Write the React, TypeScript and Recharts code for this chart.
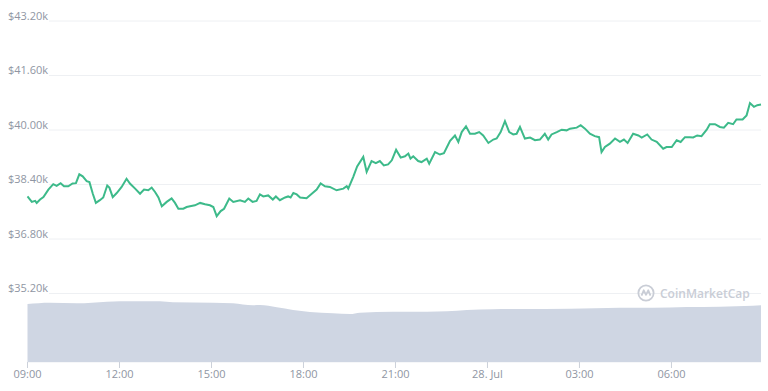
import { Area, CartesianGrid, ComposedChart, Line, XAxis, YAxis } from "recharts";

// hours since midnight of 27 Jul (24+ = 28 Jul)
const priceHours = [
  9.0, 9.14, 9.25, 9.3, 9.41, 9.52, 9.68, 9.84, 9.95, 10.08,
  10.19, 10.33, 10.47, 10.58, 10.69, 10.8, 10.93, 11.02, 11.13, 11.23,
  11.36, 11.47, 11.6, 11.67, 11.78, 11.91, 12.07, 12.23, 12.34, 12.51,
  12.67, 12.8, 12.94, 13.05, 13.16, 13.27, 13.38, 13.54, 13.7, 13.81,
  13.92, 14.08, 14.19, 14.3, 14.46, 14.63, 14.79, 14.95, 15.06, 15.17,
  15.3, 15.41, 15.58, 15.71, 15.93, 16.09, 16.2, 16.34, 16.47, 16.58,
  16.69, 16.85, 17.0, 17.1, 17.23, 17.4, 17.5, 17.58, 17.67, 17.78,
  17.89, 18.1, 18.27, 18.43, 18.56, 18.7, 18.86, 19.08, 19.3, 19.41,
  19.46, 19.62, 19.75, 19.95, 20.06, 20.22, 20.36, 20.49, 20.62, 20.76,
  20.88, 21.02, 21.17, 21.31, 21.42, 21.49, 21.58, 21.74, 21.85, 22.02,
  22.1, 22.29, 22.45, 22.58, 22.78, 22.94, 23.05, 23.16, 23.3, 23.43,
  23.59, 23.73, 23.86, 24.03, 24.19, 24.3, 24.43, 24.57, 24.71, 24.84,
  24.95, 25.06, 25.22, 25.39, 25.55, 25.71, 25.87, 25.98, 26.09, 26.26,
  26.42, 26.58, 26.69, 26.91, 27.04, 27.18, 27.34, 27.5, 27.64, 27.72,
  27.83, 27.99, 28.16, 28.32, 28.45, 28.57, 28.75, 28.92, 29.03, 29.21,
  29.35, 29.52, 29.73, 29.84, 30.01, 30.17, 30.3, 30.44, 30.6, 30.71,
  30.84, 30.98, 31.15, 31.25, 31.42, 31.58, 31.71, 31.85, 32.01, 32.12,
  32.32, 32.45, 32.56, 32.69, 32.8, 32.92,
];

const priceValues = [
  38050, 37890, 37920, 37860, 37960, 38030, 38250, 38410, 38360, 38440,
  38350, 38350, 38430, 38440, 38700, 38640, 38500, 38470, 38130, 37860,
  37940, 38020, 38370, 38310, 38030, 38150, 38330, 38570, 38430, 38280,
  38130, 38250, 38230, 38310, 38180, 38020, 37760, 37890, 37990, 37860,
  37690, 37690, 37740, 37760, 37790, 37860, 37820, 37790, 37740, 37470,
  37620, 37690, 37990, 37890, 37940, 37890, 37990, 37890, 37920, 38110,
  38050, 38080, 37960, 38050, 37940, 38020, 38050, 38020, 38150, 38110,
  38020, 38000, 38130, 38250, 38430, 38350, 38330, 38230, 38280, 38350,
  38280, 38620, 38930, 39210, 38770, 39090, 39030, 39090, 38960, 38990,
  39110, 39420, 39190, 39230, 39310, 39160, 39230, 39090, 39060, 39160,
  39010, 39350, 39280, 39320, 39680, 39840, 39650, 39940, 40110, 39890,
  39890, 39940, 39840, 39620, 39720, 39750, 39940, 40260, 39940, 39870,
  39890, 40090, 39750, 39780, 39700, 39720, 39890, 39720, 39870, 39940,
  40010, 39990, 40040, 40070, 40140, 40040, 39890, 39820, 39790, 39350,
  39500, 39600, 39750, 39650, 39720, 39620, 39890, 39840, 39780, 39870,
  39720, 39650, 39450, 39500, 39500, 39700, 39650, 39790, 39790, 39780,
  39840, 39820, 40010, 40170, 40170, 40090, 40070, 40210, 40170, 40310,
  40310, 40430, 40790, 40680, 40730, 40750,
];

const volumeHours = [
  9.0, 9.73, 10.61, 11.59, 12.02, 13.32, 13.74, 15.05, 15.7, 16.35,
  16.58, 17.13, 17.66, 18.21, 18.96, 19.52, 19.84, 20.92, 22.03, 22.68,
  23.33, 24.18, 25.06, 26.69, 28.32, 29.39, 30.5, 31.58, 32.65, 32.92,
];

// 24h volume, $B
const volumeValues = [
  29.0, 29.65, 29.35, 30.15, 30.35, 30.35, 29.85, 29.65, 29.35, 28.35,
  28.5, 27.35, 26.0, 25.0, 24.35, 24.0, 24.65, 25.15, 25.15, 25.35,
  26.0, 26.35, 26.5, 26.65, 27.15, 27.15, 27.5, 27.65, 28.15, 28.35,
];

const xTicks = [9, 12, 15, 18, 21, 24, 27, 30];
const xTickLabels = ["09:00", "12:00", "15:00", "18:00", "21:00", "28. Jul", "03:00", "06:00"];
const yTicks = [35200, 36800, 38400, 40000, 41600, 43200];

const priceData = priceHours.map((h, i) => ({ h, price: priceValues[i] }));
const volumeData = volumeHours.map((h, i) => ({ h, volume: volumeValues[i] }));

const FONT = "'Open Sans', sans-serif";
const LABEL = "#8f96a3";

function PriceTick({ y, payload }: any) {
  return (
    <g>
      <rect x={0} y={y - 13} width={49} height={15} fill="#fff" />
      <text x={8} y={y - 1.5} fontSize={11} fontFamily={FONT} fill={LABEL} textAnchor="start">
        {`$${(payload.value / 1000).toFixed(2)}k`}
      </text>
    </g>
  );
}

function Watermark() {
  return (
    <div style={{ position: "absolute", left: 637, top: 284, display: "flex", alignItems: "center", gap: 5 }}>
      <svg width={18} height={18} viewBox="0 0 20 20">
        <circle cx={10} cy={10} r={8.5} fill="none" stroke="#c9cdd6" strokeWidth={2} />
        <path d="M5 13 L7.5 7 L10 12 L12.5 7 L15 13" fill="none" stroke="#c9cdd6" strokeWidth={2} strokeLinejoin="round" />
      </svg>
      <span style={{ fontFamily: FONT, fontSize: 12, fontWeight: 600, color: "#c9cdd6" }}>CoinMarketCap</span>
    </div>
  );
}

export default function App() {
  return (
    <div style={{ position: "absolute", left: 0, top: 0, width: 768, height: 391, background: "#fff" }}>
      <ComposedChart width={768} height={391} margin={{ top: 21, right: 7, left: 0, bottom: 0 }}>
        <CartesianGrid horizontal vertical={false} stroke="#eef0f3" yAxisId="price" />
        <XAxis
          dataKey="h"
          type="number"
          domain={[9, 32.92]}
          ticks={xTicks}
          tickFormatter={(v: number) => xTickLabels[xTicks.indexOf(v)]}
          axisLine={false}
          tickSize={6}
          tickLine={{ stroke: "#ccd1da" }}
          height={29}
          tick={{ fontSize: 11, fontFamily: FONT, fill: LABEL }}
          allowDuplicatedCategory={false}
        />
        <YAxis
          yAxisId="price"
          type="number"
          domain={[33190, 43200]}
          ticks={yTicks}
          width={27.5}
          axisLine={false}
          tickLine={false}
          tick={<PriceTick />}
        />
        <YAxis yAxisId="vol" type="number" domain={[0, 170.5]} hide />
        <Area
          yAxisId="vol"
          data={volumeData}
          dataKey="volume"
          type="monotone"
          stroke="none"
          fill="#cfd6e3"
          fillOpacity={1}
          isAnimationActive={false}
          dot={false}
          activeDot={false}
        />
        <Line
          yAxisId="price"
          data={priceData}
          dataKey="price"
          type="linear"
          stroke="#3dba8a"
          strokeWidth={2}
          dot={false}
          activeDot={false}
          isAnimationActive={false}
        />
      </ComposedChart>
      <Watermark />
    </div>
  );
}
